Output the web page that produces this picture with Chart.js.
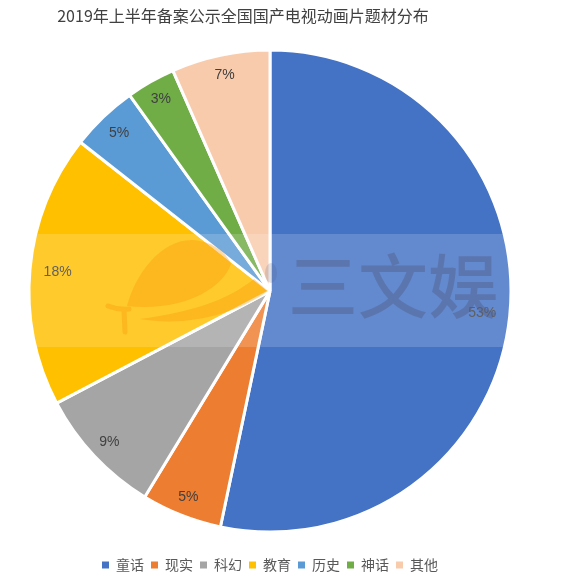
<!DOCTYPE html>
<html><head><meta charset="utf-8">
<style>html,body{margin:0;padding:0;background:#fff}canvas{display:block}</style>
<script src="https://cdn.jsdelivr.net/npm/chart.js@4/dist/chart.umd.min.js"></script>
</head><body>
<canvas id="c" width="580" height="582"></canvas>
<script>
const titleText = '2019年上半年备案公示全国国产电视动画片题材分布';
const categories = ['童话','现实','科幻','教育','历史','神话','其他'];
const sliceValues = [53.3,5.4,8.6,18.3,4.5,3.3,6.6];
const sliceLabels = ['53%','5%','9%','18%','5%','3%','7%'];
const sliceColors = ['#4472c4','#ed7d31','#a5a5a5','#ffc000','#5b9bd5','#70ad47','#f8cbad'];
const labelRadiusFactors = [0.885,0.92,0.915,0.885,0.905,0.915,0.915];
const watermarkText = '三文娱';
const FONT = '"Noto Sans CJK SC","Liberation Sans",sans-serif';

const sliceLabelPlugin = {
  id:'sliceLabels',
  afterDatasetsDraw(chart){
    const ctx = chart.ctx;
    ctx.save();
    ctx.font = '14px "Liberation Sans",sans-serif';
    ctx.fillStyle = '#404040';
    ctx.textAlign='center'; ctx.textBaseline='middle';
    chart.getDatasetMeta(0).data.forEach((arc,i)=>{
      const p = arc.getProps(['x','y','startAngle','endAngle','outerRadius'],true);
      const a = (p.startAngle+p.endAngle)/2;
      const r = p.outerRadius*labelRadiusFactors[i];
      ctx.fillText(sliceLabels[i], p.x+Math.cos(a)*r, p.y+Math.sin(a)*r);
    });
    ctx.restore();
  }
};
const watermarkPlugin = {
  id:'watermark',
  afterDraw(chart){
    const ctx = chart.ctx;
    ctx.save();
    ctx.fillStyle='rgba(255,255,255,0.17)';
    ctx.fillRect(0,234,580,113);
    const fish='rgba(250,150,10,0.36)';
    ctx.fillStyle=fish;
    ctx.beginPath();
    ctx.moveTo(127,306);
    ctx.bezierCurveTo(135,275,160,240,192,240);
    ctx.bezierCurveTo(210,241,225,250,231,264);
    ctx.bezierCurveTo(222,290,180,312,127,306);
    ctx.closePath();ctx.fill();
    ctx.beginPath();
    ctx.moveTo(140,319);
    ctx.bezierCurveTo(190,312,225,302,254,279);
    ctx.lineTo(268,291);
    ctx.bezierCurveTo(235,315,185,327,140,319);
    ctx.closePath();ctx.fill();
    ctx.strokeStyle=fish;ctx.lineWidth=5;ctx.lineCap='round';
    ctx.beginPath();ctx.moveTo(108,306);ctx.quadraticCurveTo(118,310,129,309);ctx.moveTo(124,310);ctx.lineTo(125,332);ctx.stroke();
    ctx.fillStyle='rgba(80,90,130,0.18)';
    ctx.beginPath();ctx.ellipse(271,273,6,10,0,0,Math.PI*2);ctx.fill();
    ctx.font='500 70px "Noto Sans CJK SC",sans-serif';
    ctx.fillStyle='rgba(80,90,130,0.40)';
    ctx.textAlign='left';ctx.textBaseline='middle';
    ctx.fillText(watermarkText,288,286);
    ctx.restore();
  }
};
const titleShiftPlugin = {
  id:'titleShift',
  afterLayout(chart){ chart.titleBlock.left=0; chart.titleBlock.right=486; }
};

new Chart(document.getElementById('c'),{
  type:'pie',
  data:{labels:categories,datasets:[{data:sliceValues,backgroundColor:sliceColors,borderColor:'#ffffff',borderWidth:3,radius:241}]},
  plugins:[sliceLabelPlugin,watermarkPlugin,titleShiftPlugin],
  options:{
    responsive:false,animation:false,
    layout:{padding:{left:0,right:40,top:0,bottom:0}},
    plugins:{
      tooltip:{enabled:false},
      title:{display:true,text:titleText,color:'#404040',font:{size:16,family:FONT,weight:'normal'},padding:{top:6,bottom:6}},
      legend:{position:'bottom',labels:{boxWidth:7,boxHeight:7,padding:7,color:'#595959',font:{size:14,family:FONT},
        generateLabels(chart){
          return Chart.overrides.pie.plugins.legend.labels.generateLabels(chart).map(l=>({...l,lineWidth:0}));
        }}}
    }
  }
});
</script>
</body></html>
